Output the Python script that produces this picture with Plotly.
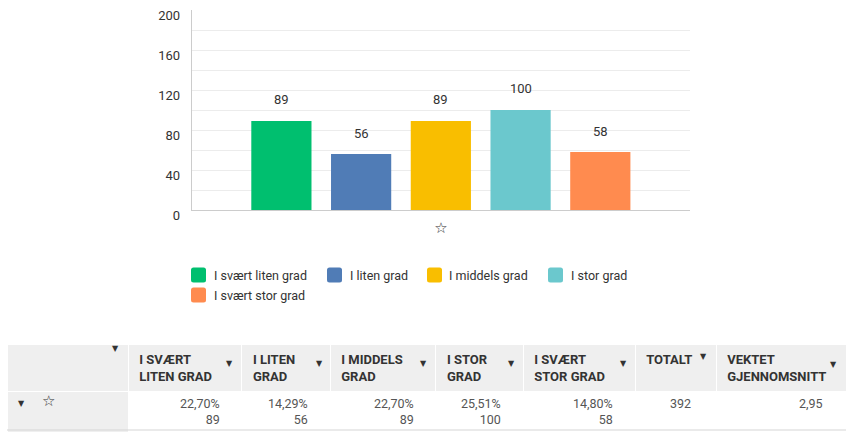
import plotly.graph_objects as go

W, H = 846, 436

# ---- data ----
categories = ["I svært liten grad", "I liten grad", "I middels grad", "I stor grad", "I svært stor grad"]
counts = [89, 56, 89, 100, 58]
percents = ["22,70%", "14,29%", "22,70%", "25,51%", "14,80%"]
total = 392
weighted_avg = "2,95"
x_category = "☆"
y_tick_vals = [0, 40, 80, 120, 160, 200]
grid_vals = [20, 40, 60, 80, 100, 120, 140, 160, 180]
header_labels = ["", "I SVÆRT<br>LITEN GRAD", "I LITEN<br>GRAD", "I MIDDELS<br>GRAD",
                 "I STOR<br>GRAD", "I SVÆRT<br>STOR GRAD", "TOTALT", "VEKTET<br>GJENNOMSNITT"]

# ---- styles ----
colors = ["#00BF6F", "#507CB6", "#F9BE00", "#6BC8CD", "#FF8B4F"]
FONT = "Roboto, Arial, sans-serif"
TXT = "#333333"
BODY_TXT = "#555555"
GRID = "#ececec"
AXIS = "#cccccc"
HEAD_BG = "#efefef"
BARGAP = 0.2
BARGROUPGAP = 0.245
PLOT_X0, PLOT_X1, PLOT_Y0, PLOT_Y1 = 191.7, 690, 10, 210


def px(x):
    return x / W


def py(y):
    return 1 - y / H


fig = go.Figure()
annotations = []
shapes = []

n = len(categories)
slot = (PLOT_X1 - PLOT_X0) * (1 - BARGAP) / n
for i, (name, val, col) in enumerate(zip(categories, counts, colors)):
    fig.add_trace(go.Bar(
        name=name, x=[x_category], y=[val],
        marker=dict(color=col, line=dict(width=0)),
        showlegend=False, hoverinfo="skip",
    ))
    # value label above each bar (anchored to the data value)
    annotations.append(dict(text=str(val), x=x_category, y=val, xref="x", yref="y",
                            xshift=(i - (n - 1) / 2) * slot, yshift=21,
                            showarrow=False, xanchor="center", yanchor="middle",
                            font=dict(family=FONT, size=13, color=TXT)))

# ---- table ----
col_edges = [7, 128, 241.7, 330, 435.7, 523, 635, 716, 846]
col_widths = [b - a for a, b in zip(col_edges[:-1], col_edges[1:])]

fig.add_trace(go.Table(
    domain=dict(x=[px(7), 1.0], y=[0, py(344)]),
    columnwidth=col_widths,
    header=dict(
        values=[f"<b>\u00a0{h.replace('<br>', '<br>' + chr(160))}</b>" if h else "" for h in header_labels],
        fill_color=HEAD_BG, line=dict(color="white", width=1),
        align="left", height=42,
        font=dict(family=FONT, size=13, color=TXT),
    ),
    cells=dict(
        values=[[""] for _ in header_labels],
        fill_color=[[HEAD_BG]] + [["white"]] * 7,
        line=dict(color="white", width=1),
        align="right", height=41,
        font=dict(family=FONT, size=13, color=BODY_TXT),
    ),
))

# body cell values (right aligned, two lines)
value_right = [e - 20 for e in col_edges[2:7]]
for xr, p, c in zip(value_right, percents, counts):
    annotations.append(dict(text=f"{p}<br>{c}", x=px(xr), y=py(411), xref="paper", yref="paper",
                            showarrow=False, xanchor="right", yanchor="middle", align="right",
                            font=dict(family=FONT, size=12.5, color=BODY_TXT)))
annotations.append(dict(text=str(total), x=px(col_edges[7] - 23), y=py(403.5), xref="paper", yref="paper",
                        showarrow=False, xanchor="right", yanchor="middle",
                        font=dict(family=FONT, size=12.5, color=BODY_TXT)))
annotations.append(dict(text=weighted_avg, x=px(col_edges[8] - 21), y=py(403.5), xref="paper", yref="paper",
                        showarrow=False, xanchor="right", yanchor="middle",
                        font=dict(family=FONT, size=12.5, color=BODY_TXT)))

# bottom border line of table
shapes.append(dict(type="line", xref="paper", yref="paper", x0=px(7), x1=1.0,
                   y0=py(430), y1=py(430), line=dict(color="#d5d5d5", width=1)))

# header dropdown triangles
tri_pos = [(115, 348), (229.5, 363), (319, 363), (423, 363), (511, 363), (623, 363), (703, 356), (833, 364)]
for (tx, ty) in tri_pos:
    annotations.append(dict(text="▼", x=px(tx), y=py(ty), xref="paper", yref="paper",
                            showarrow=False, font=dict(size=8, color=TXT, family="DejaVu Sans"),
                            xanchor="center", yanchor="middle"))
# body first column
annotations.append(dict(text="▼", x=px(21), y=py(403), xref="paper", yref="paper",
                        showarrow=False, font=dict(size=8, color=TXT, family="DejaVu Sans"),
                        xanchor="center", yanchor="middle"))
annotations.append(dict(text="☆", x=px(48), y=py(401), xref="paper", yref="paper",
                        showarrow=False, font=dict(size=15, color=TXT, family="DejaVu Sans"),
                        xanchor="center", yanchor="middle"))

# ---- custom legend ----
legend_pos = [(191, 275), (327, 275), (427, 275), (548, 275), (191, 295)]
for (lx, ly), name, col in zip(legend_pos, categories, colors):
    x0, x1, y0, y1 = lx, lx + 15, ly - 7.5, ly + 7.5
    r = 2.5
    path = (f"M {px(x0 + r)} {py(y0)} L {px(x1 - r)} {py(y0)} Q {px(x1)} {py(y0)} {px(x1)} {py(y0 + r)} "
            f"L {px(x1)} {py(y1 - r)} Q {px(x1)} {py(y1)} {px(x1 - r)} {py(y1)} "
            f"L {px(x0 + r)} {py(y1)} Q {px(x0)} {py(y1)} {px(x0)} {py(y1 - r)} "
            f"L {px(x0)} {py(y0 + r)} Q {px(x0)} {py(y0)} {px(x0 + r)} {py(y0)} Z")
    shapes.append(dict(type="path", path=path, xref="paper", yref="paper",
                       fillcolor=col, line=dict(width=0)))
    annotations.append(dict(text=name, x=px(lx + 20.5), y=py(ly), xref="paper", yref="paper",
                            showarrow=False, xanchor="left", yanchor="middle",
                            font=dict(family=FONT, size=12.5, color=TXT)))

fig.update_layout(
    width=W, height=H, autosize=False,
    margin=dict(l=0, r=0, t=0, b=0, autoexpand=False),
    paper_bgcolor="white", plot_bgcolor="white",
    barmode="group", bargap=BARGAP, bargroupgap=BARGROUPGAP,
    showlegend=False,
    font=dict(family=FONT, color=TXT),
    xaxis=dict(domain=[px(PLOT_X0), px(PLOT_X1)], showline=True, linecolor=AXIS, linewidth=1,
               showgrid=False, ticks="", ticklabelstandoff=4, automargin=False,
               tickfont=dict(family="DejaVu Sans", size=15, color=TXT),
               fixedrange=True),
    yaxis=dict(domain=[py(PLOT_Y1), py(PLOT_Y0)], range=[0, 200], tickmode="array", tickvals=y_tick_vals,
               showgrid=False, zeroline=False, showline=True, linecolor=AXIS, linewidth=1,
               ticks="", ticklabelshift=5, ticklabelstandoff=8, ticklabeloverflow="allow",
               automargin=False,
               tickfont=dict(family=FONT, size=13, color=TXT),
               minor=dict(tickmode="array", tickvals=grid_vals, showgrid=True,
                          gridcolor=GRID, gridwidth=1, ticks=""),
               fixedrange=True),
    shapes=shapes, annotations=annotations,
)

fig.write_html("out.html", config={"displayModeBar": False},
               post_script="document.body.style.margin='0';")
